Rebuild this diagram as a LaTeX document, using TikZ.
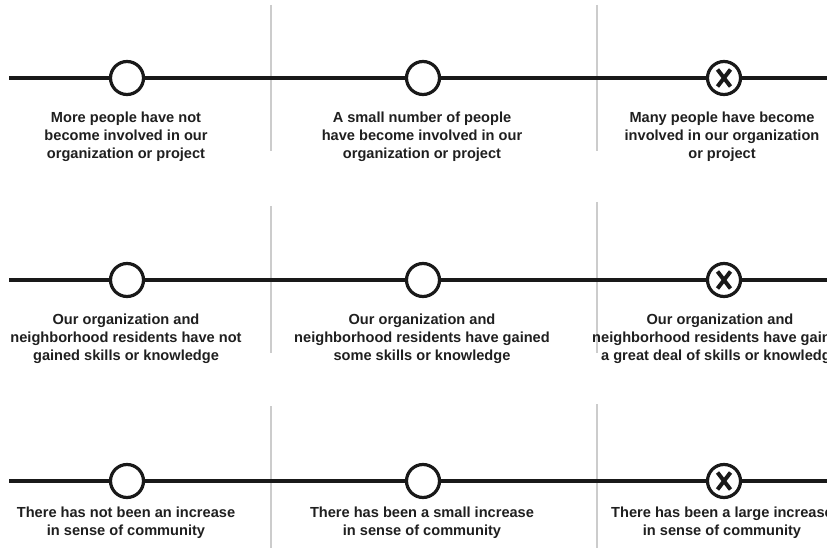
\documentclass[tikz,border=0pt]{standalone}
\usepackage{fontspec}
\setmainfont{Liberation Sans}
\tikzset{
  sep/.style={draw=black!20, line width=1.5pt},
  axisline/.style={draw=black!90, line width=3.5pt},
  dot/.style={circle, draw=black!90, line width=3.2pt, fill=white, minimum size=33pt, inner sep=0pt},
  xmark/.style={draw=black!90, line width=4pt},
  lbl/.style={align=center, font=\bfseries\fontsize{14.6}{18}\selectfont, text=black!88, inner sep=0pt}
}
\newcommand{\crossin}[1]{%
  \draw[xmark] ([shift={(-6.5,-8.5)}]#1.center) -- ([shift={(6.5,8.5)}]#1.center);
  \draw[xmark] ([shift={(6.5,-8.5)}]#1.center) -- ([shift={(-6.5,8.5)}]#1.center);}
\begin{document}
\begin{tikzpicture}[x=1pt,y=-1pt]
\useasboundingbox (0,0) rectangle (827,548);
\clip (0,0) rectangle (827,548);
% separators
\draw[sep] (271,5) -- (271,151);
\draw[sep] (597,5) -- (597,151);
\draw[sep] (271,206) -- (271,353);
\draw[sep] (597,202) -- (597,353);
\draw[sep] (271,406) -- (271,548);
\draw[sep] (597,404) -- (597,548);
% row 1
\coordinate (L1) at (9,78);
\coordinate (R1) at (830,78);
\node[dot] (a1) at (127,78) {};
\node[dot] (b1) at (423,78) {};
\node[dot] (c1) at (724,78) {};
\draw[axisline] (L1) -- (a1) -- (b1) -- (c1) -- (R1);
\crossin{c1}
\node[lbl] (ta1) at (126,137) {More people have not\\become involved in our\\organization or project};
\node[lbl] (tb1) at (422,137) {A small number of people\\have become involved in our\\organization or project};
\node[lbl] (tc1) at (722,137) {Many people have become\\involved in our organization\\or project};
% row 2
\coordinate (L2) at (9,280);
\coordinate (R2) at (830,280);
\node[dot] (a2) at (127,280) {};
\node[dot] (b2) at (423,280) {};
\node[dot] (c2) at (724,280) {};
\draw[axisline] (L2) -- (a2) -- (b2) -- (c2) -- (R2);
\crossin{c2}
\node[lbl] (ta2) at (126,339) {Our organization and\\neighborhood residents have not\\gained skills or knowledge};
\node[lbl] (tb2) at (422,339) {Our organization and\\neighborhood residents have gained\\some skills or knowledge};
\node[lbl] (tc2) at (720,339) {Our organization and\\neighborhood residents have gained\\a great deal of skills or knowledge};
% row 3
\coordinate (L3) at (9,481);
\coordinate (R3) at (830,481);
\node[dot] (a3) at (127,481) {};
\node[dot] (b3) at (423,481) {};
\node[dot] (c3) at (724,481) {};
\draw[axisline] (L3) -- (a3) -- (b3) -- (c3) -- (R3);
\crossin{c3}
\node[lbl] (ta3) at (126,523) {There has not been an increase\\in sense of community};
\node[lbl] (tb3) at (422,523) {There has been a small increase\\in sense of community};
\node[lbl] (tc3) at (722,523) {There has been a large increase\\in sense of community};
\end{tikzpicture}
\end{document}
